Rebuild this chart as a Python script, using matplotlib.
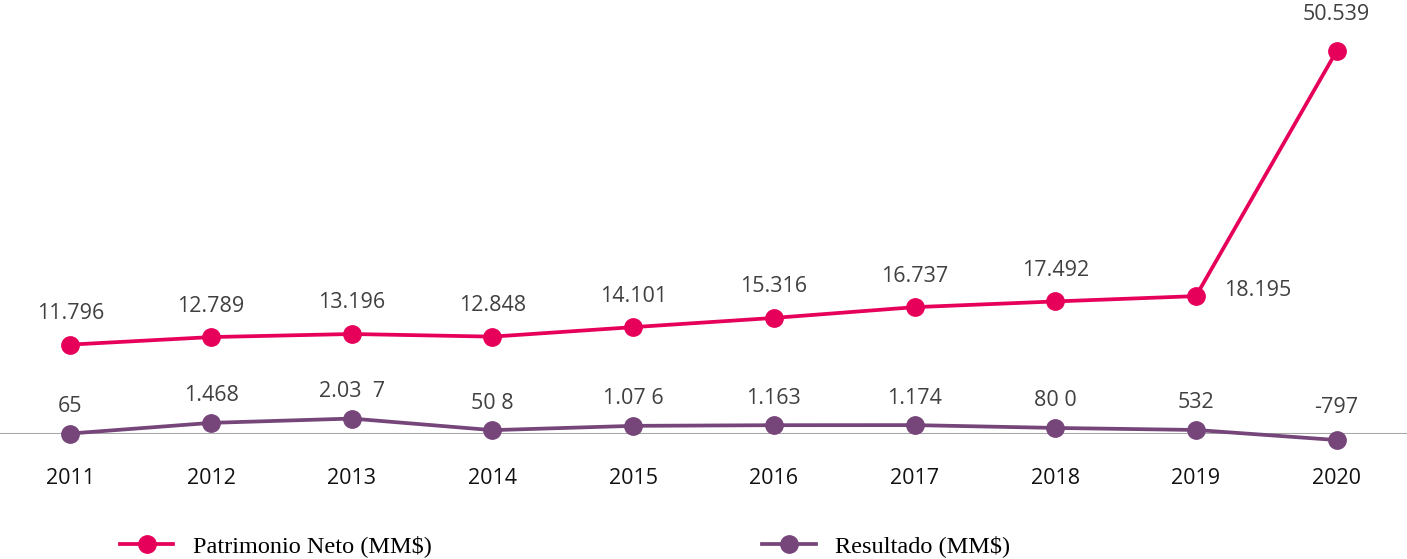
import matplotlib.pyplot as plt

years = ["2011", "2012", "2013", "2014", "2015", "2016", "2017", "2018", "2019", "2020"]
patrimonio = [11796, 12789, 13196, 12848, 14101, 15316, 16737, 17492, 18195, 50539]
resultado = [65, 1468, 2037, 508, 1076, 1163, 1174, 800, 532, -797]
patrimonio_labels = ["11.796", "12.789", "13.196", "12.848", "14.101",
                     "15.316", "16.737", "17.492", "18.195", "50.539"]
resultado_labels = ["65", "1.468", "2.03  7", "50 8", "1.07 6",
                    "1.163", "1.174", "80 0", "532", "-797"]

pink = "#E6005A"
purple = "#76457A"
label_col = "#404040"

fig = plt.figure(figsize=(14.07, 5.59), dpi=100)
ax = fig.add_axes([0, (559 - 434) / 559, 1, 383 / 559])

x = list(range(len(years)))
ax.axhline(0, color="#A6A6A6", lw=1.5, zorder=1)
l1, = ax.plot(x, patrimonio, color=pink, lw=2.7, marker="o", ms=12.5,
              label="Patrimonio Neto (MM$)", clip_on=False, zorder=3)
l2, = ax.plot(x, resultado, color=purple, lw=2.7, marker="o", ms=12.5,
              label="Resultado (MM$)", clip_on=False, zorder=3)

ax.set_xlim(-0.5, 9.5)
ax.set_ylim(0, 50539)
ax.axis("off")

font = "Open Sans"
fs = 15.5
for i, (v, s) in enumerate(zip(patrimonio, patrimonio_labels)):
    if i == 8:
        ax.annotate(s, (i, v), xytext=(62, 6), textcoords="offset pixels",
                    ha="center", va="center", fontsize=fs, color=label_col, family=font)
    else:
        dy = 36 if i == 9 else 31
        ax.annotate(s, (i, v), xytext=(0, dy), textcoords="offset pixels",
                    ha="center", va="center", fontsize=fs, color=label_col, family=font)

for i, (v, s) in enumerate(zip(resultado, resultado_labels)):
    dy = 33 if v < 0 else 27
    ax.annotate(s, (i, v), xytext=(0, dy), textcoords="offset pixels",
                ha="center", va="center", fontsize=fs, color=label_col, family=font,
                annotation_clip=False)

for i, y in enumerate(years):
    ax.annotate(y, (i, 0), xytext=(0, -44), textcoords="offset pixels",
                ha="center", va="center", fontsize=fs, color="#111111", family=font,
                annotation_clip=False)

fig.legend(handles=[l1, l2], loc="center left", bbox_to_anchor=(120 / 1407, 1 - 546 / 559),
           ncol=2, frameon=False, handlelength=2.2, handletextpad=0.8,
           columnspacing=13.6, borderaxespad=0, borderpad=0,
           prop={"family": "Liberation Serif", "size": 17.5})

fig.savefig("out.png", dpi=100)
